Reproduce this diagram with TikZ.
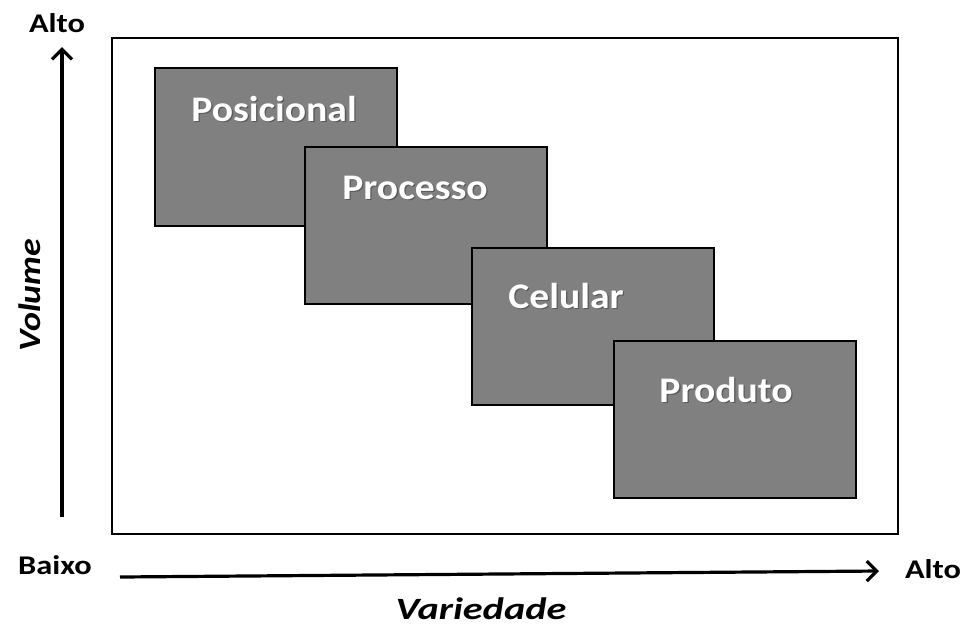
\documentclass[tikz,border=0pt]{standalone}
\usepackage{fontspec}
\setmainfont{Carlito}
\usetikzlibrary{arrows.meta}
\definecolor{boxgray}{RGB}{128,128,128}
\tikzset{
  frame/.style={draw=black, line width=2.2pt},
  block/.style={draw=black, fill=boxgray, line width=1.8pt, rectangle, anchor=north west, inner sep=0pt},
  blocklabel/.style={text=white, font=\bfseries\fontsize{36}{40}\selectfont, inner sep=0pt, xscale=1.1},
  blockshadow/.style={text=black!65, font=\bfseries\fontsize{36}{40}\selectfont, inner sep=0pt, xscale=1.1},
  axis/.style={line width=3.2pt, -{Straight Barb[length=10pt,width=20pt,line width=3.2pt]}},
  axislabel/.style={font=\bfseries\fontsize{27}{30}\selectfont, inner sep=0pt, xscale=1.2},
  axistitle/.style={font=\bfseries\itshape\fontsize{31}{34}\selectfont, inner sep=0pt}
}
\begin{document}
\begin{tikzpicture}[x=1pt,y=-1pt]
\useasboundingbox (0,0) rectangle (960,625);
% frame
\draw[frame] (112,38) rectangle (898,534);
% blocks
\node[block, minimum width=242pt, minimum height=158pt] (pos) at (154,67) {};
\node[blockshadow] at (275.3,109.8) {Posicional};
\node[blocklabel] (posl) at (274,108.5) {Posicional};
\node[block, minimum width=242pt, minimum height=157pt] (proc) at (304,146) {};
\node[blockshadow] at (416.3,189.3) {Processo};
\node[blocklabel] (procl) at (415,188) {Processo};
\node[block, minimum width=242pt, minimum height=157pt] (cel) at (471,247) {};
\node[blockshadow] at (567.3,297.3) {Celular};
\node[blocklabel] (cell) at (566,296) {Celular};
\node[block, minimum width=242pt, minimum height=157pt] (prod) at (613,340) {};
\node[blockshadow] at (727.3,391.3) {Produto};
\node[blocklabel] (prodl) at (726,390) {Produto};
% axes
\coordinate (vb) at (62,517);
\coordinate (vt) at (62,47);
\draw[axis] (vb) -- (vt);
\coordinate (hl) at (120,577);
\coordinate (hr) at (879,571);
\draw[axis] (hl) -- (hr);
\node[axislabel, anchor=base] (altoy) at (57,32) {Alto};
\node[axislabel, anchor=base] (baixo) at (55,574) {Baixo};
\node[axislabel, anchor=base] (altox) at (933,578) {Alto};
\node[axistitle, rotate=90, xscale=1.16, anchor=base] (vol) at (40,295) {Volume};
\node[axistitle, xscale=1.3, anchor=base] (var) at (481,619) {Variedade};
\end{tikzpicture}
\end{document}
